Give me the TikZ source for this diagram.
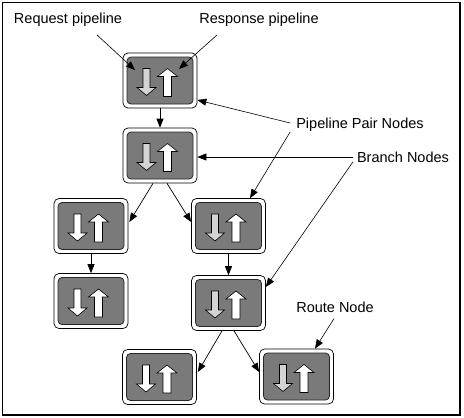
\documentclass[tikz,border=0pt]{standalone}
\usepackage{fontspec}
\setmainfont{Liberation Sans}
\usetikzlibrary{arrows.meta,calc,positioning}
\definecolor{boxgray}{RGB}{122,122,122}
\definecolor{pipegray}{RGB}{212,212,212}
\newcommand{\pipearrows}[1]{%
  \begin{scope}[shift={(path picture bounding box.center)}, x=1pt, y=-1pt, sharp corners]
    \draw[fill=boxgray, draw=black!85, line width=0.8pt, rounded corners=4pt] (-33,-23.5) rectangle (33,23.5);
    \draw[fill=#1, line width=0.6pt] (-17,-12) -- (-10,-12) -- (-10,7) -- (-4,7) -- (-13.5,15) -- (-23,7) -- (-17,7) -- cycle;
    \draw[fill=white, line width=0.6pt] (3.5,16) -- (3.5,-4) -- (-2.5,-4) -- (7.5,-12) -- (17.5,-4) -- (11.5,-4) -- (11.5,16) -- cycle;
  \end{scope}}
\tikzset{
>={Triangle[length=9pt,width=7pt]},
  pipebox/.style={
    rectangle,
    rounded corners=5pt,
    draw=black, line width=0.7pt,
    fill=white,
    minimum width=74pt,
    minimum height=55pt,
    inner sep=0pt,
    path picture={\pipearrows{#1}}},
  pipebox/.default=pipegray,
  callout/.style={font=\fontsize{14.5}{17}\selectfont, inner sep=0pt},
}
\begin{document}
\begin{tikzpicture}[
    x=1pt, y=-1pt,
    frame/.style={line width=1.2pt},
    edge/.style={->, line width=0.7pt},
    pointer/.style={->, line width=0.6pt}
    ]
    \useasboundingbox (0,0) rectangle (464,418);
    \draw[frame] (2.5,2.5) rectangle (460,415);

    % nodes
    \node[pipebox] (top) at (160,80.5) {};
    \node[pipebox] (second) at (160,155.5) {};
    \node[pipebox=white] (left3) at (91,226) {};
    \node[pipebox] (right3) at (228.5,226) {};
    \node[pipebox=white] (left4) at (91,301) {};
    \node[pipebox] (right4) at (228.5,303) {};
    \node[pipebox=white] (bleft) at (159.5,377) {};
    \node[pipebox] (route) at (296.5,376.5) {};

    % tree
    \draw[edge] (top.south) -- (second.north);
    \draw[edge] ($(second.south)+(-7,0)$) -- ($(left3.east)+(1,-4)$);
    \draw[edge] ($(second.south)+(7,0)$) -- ($(right3.west)+(0,-4)$);
    \draw[edge] (left3.south) -- (left4.north);
    \draw[edge] (right3.south) -- (right4.north);
    \draw[edge] ($(right4.south)+(-6.5,0)$) -- ($(bleft.east)+(1,-5)$);
    \draw[edge] ($(right4.south)+(5.5,0)$) -- ($(route.west)+(0,-4.5)$);

    % labels
    \node[callout] (req) at (68,20) {Request pipeline};
    \node[callout] (resp) at (259,20) {Response pipeline};
    \node[callout] (ppn) at (360,125) {Pipeline Pair Nodes};
    \node[callout] (brn) at (403,157) {Branch Nodes};
    \node[callout] (rtn) at (335,307) {Route Node};

    %pointers
    \draw[pointer] ($(req.south)+(29,8)$) -- ($(top.center)+(-25,-10.5)$);
    \draw[pointer] ($(resp.south)+(-42,8)$) -- ($(top.center)+(19,-11.5)$);
    \draw[pointer] ($(ppn.west)+(-6,-2)$) -- ($(top.east)+(0,19.5)$);
    \draw[pointer] ($(ppn.west)+(-6,7)$) -- ($(right3.north)+(21.5,0)$);
    \draw[pointer] ($(brn.west)+(-4,0)$) -- (second.east |- brn.west);
    \draw[pointer] ($(brn.west)+(-4,5)$) -- ($(right4.east)+(0,-16)$);
    \draw[pointer] ($(rtn.south)+(-1,6)$) -- ($(route.north)+(18.5,0)$);

\end{tikzpicture}
\end{document}
